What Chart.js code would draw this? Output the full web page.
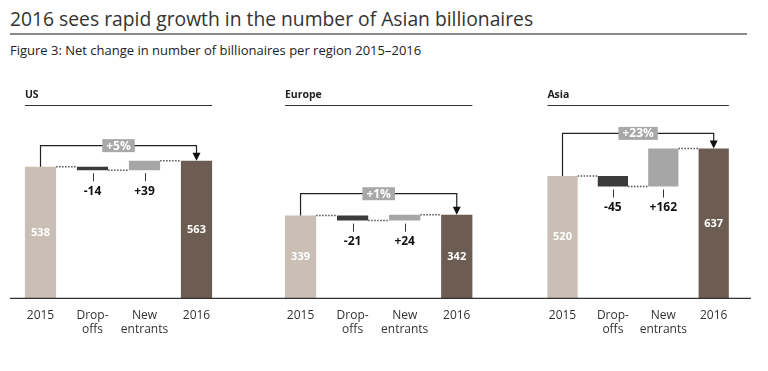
<!DOCTYPE html>
<html>
<head>
<meta charset="utf-8">
<script src="https://cdn.jsdelivr.net/npm/chart.js@4/dist/chart.umd.min.js"></script>
<style>
  body { margin: 0; background: #fff; width: 768px; height: 371px; position: relative; overflow: hidden; font-family: "Open Sans", sans-serif; }
  #title { position: absolute; left: 10px; top: 5px; font-size: 19.3px; color: #333; white-space: nowrap; }
  #rule { position: absolute; left: 10px; top: 33px; width: 737px; height: 2px; background: #8a8a8a; }
  #subtitle { position: absolute; left: 10px; top: 41px; font-size: 13px; color: #222; white-space: nowrap; }
  canvas { position: absolute; top: 80px; }
</style>
</head>
<body>
<div id="title">2016 sees rapid growth in the number of Asian billionaires</div>
<div id="rule"></div>
<div id="subtitle">Figure 3: Net change in number of billionaires per region 2015–2016</div>
<canvas id="us" width="260" height="270" style="left:0px"></canvas>
<canvas id="europe" width="260" height="270" style="left:260px"></canvas>
<canvas id="asia" width="248" height="270" style="left:520px"></canvas>
<script>
// Daten
const categories = ['2015', ['Drop-', 'offs'], ['New', 'entrants'], '2016'];
const regions = ['US', 'Europe', 'Asia'];
const start2015 = [538, 339, 520];
const dropOffs = [-14, -21, -45];
const newEntrants = [39, 24, 162];
const end2016 = [563, 342, 637];
const growthLabels = ['+5%', '+1%', '+23%'];
const yMax = [770, 770, 800];

const barColors = ['#c9bfb5', '#3b3b3b', '#a6a6a6', '#6c5c51'];

// layout per panel (canvas-local pixels)
const panels = [
  { id: 'us', pad: { left: 14.5, right: 37.5 }, base: [10, 260], gap: 15 },
  { id: 'europe', pad: { left: 14.5, right: 37.2 }, base: [0, 260], gap: 21 },
  { id: 'asia', pad: { left: 17.3, right: 29.1 }, base: [0, 231], gap: 15 }
];

const FONT = '"Open Sans", sans-serif';

const waterfallDeco = {
  id: 'waterfallDeco',
  afterDatasetsDraw(chart, args, opts) {
    const ctx = chart.ctx;
    const bars = chart.getDatasetMeta(0).data;
    const area = chart.chartArea;
    const box = bars.map(b => ({
      x: b.x, w: b.width,
      left: b.x - b.width / 2, right: b.x + b.width / 2,
      top: Math.min(b.y, b.base), bottom: Math.max(b.y, b.base)
    }));
    ctx.save();

    // header
    ctx.fillStyle = '#222';
    ctx.font = 'bold 10.5px ' + FONT;
    ctx.textAlign = 'left';
    ctx.textBaseline = 'middle';
    ctx.fillText(opts.region, box[0].left, 15);
    ctx.strokeStyle = '#333';
    ctx.lineWidth = 1;
    ctx.beginPath();
    ctx.moveTo(box[0].left, 25.5);
    ctx.lineTo(box[3].right, 25.5);
    ctx.stroke();

    // baseline
    ctx.strokeStyle = '#333';
    ctx.lineWidth = 1.3;
    ctx.beginPath();
    ctx.moveTo(opts.base[0], area.bottom);
    ctx.lineTo(opts.base[1], area.bottom);
    ctx.stroke();

    // dotted connectors
    ctx.strokeStyle = '#555';
    ctx.lineWidth = 1.5;
    ctx.setLineDash([1.5, 1.5]);
    const links = [[0, box[0].top, 1], [1, box[1].bottom, 2], [2, box[2].top, 3]];
    links.forEach(([i, y, j]) => {
      ctx.beginPath();
      ctx.moveTo(box[i].right, y);
      ctx.lineTo(box[j].left, y);
      ctx.stroke();
    });
    ctx.setLineDash([]);

    // totals inside bars
    ctx.fillStyle = '#fff';
    ctx.font = 'bold 11px ' + FONT;
    ctx.textAlign = 'center';
    [0, 3].forEach(i => {
      ctx.fillText(String(opts.values[i]), box[i].x, (box[i].top + box[i].bottom) / 2);
    });

    // delta ticks + labels
    [1, 2].forEach(i => {
      const v = opts.values[i];
      ctx.strokeStyle = '#333';
      ctx.lineWidth = 1;
      ctx.beginPath();
      ctx.moveTo(Math.round(box[i].x) + 0.5, box[i].bottom + 3);
      ctx.lineTo(Math.round(box[i].x) + 0.5, box[i].bottom + 11);
      ctx.stroke();
      ctx.fillStyle = '#111';
      ctx.font = 'bold 12px ' + FONT;
      ctx.fillText((v > 0 ? '+' : '') + v, box[i].x, box[i].bottom + 21);
    });

    // growth bracket
    const lineY = Math.min(...box.map(b => b.top)) - opts.gap;
    const x0 = box[0].x, x1 = box[3].x;
    ctx.strokeStyle = '#222';
    ctx.lineWidth = 1.2;
    ctx.beginPath();
    ctx.moveTo(x0, box[0].top);
    ctx.lineTo(x0, lineY);
    ctx.lineTo(x1, lineY);
    ctx.lineTo(x1, box[3].top - 6);
    ctx.stroke();
    ctx.fillStyle = '#111';
    ctx.beginPath();
    ctx.moveTo(x1 - 4, box[3].top - 8);
    ctx.lineTo(x1 + 4, box[3].top - 8);
    ctx.lineTo(x1, box[3].top);
    ctx.closePath();
    ctx.fill();

    ctx.font = 'bold 12px ' + FONT;
    const tw = ctx.measureText(opts.growth).width;
    const cx = (x0 + x1) / 2;
    ctx.fillStyle = '#a8a8a8';
    ctx.fillRect(cx - tw / 2 - 4, lineY - 6.5, tw + 8, 13);
    ctx.fillStyle = '#fff';
    ctx.fillText(opts.growth, cx, lineY + 0.5);

    ctx.restore();
  }
};

panels.forEach((p, k) => {
  const s = start2015[k], d = dropOffs[k], n = newEntrants[k], e = end2016[k];
  new Chart(document.getElementById(p.id), {
    type: 'bar',
    data: {
      labels: categories,
      datasets: [{
        data: [[0, s], [s + d, s], [s + d, s + d + n], [0, e]],
        backgroundColor: barColors,
        barPercentage: 0.6,
        categoryPercentage: 1.0
      }]
    },
    options: {
      responsive: false,
      animation: false,
      layout: { padding: { left: p.pad.left, right: p.pad.right, top: 30, bottom: 2.8 } },
      plugins: {
        legend: { display: false },
        tooltip: { enabled: false },
        waterfallDeco: { region: regions[k], values: [s, d, n, e], growth: growthLabels[k], base: p.base, gap: p.gap }
      },
      scales: {
        x: {
          grid: { display: false, drawTicks: false },
          border: { display: false },
          ticks: { color: '#333', font: { family: FONT, size: 12 }, padding: 10, maxRotation: 0, autoSkip: false }
        },
        y: { display: false, min: 0, max: yMax[k] }
      }
    },
    plugins: [waterfallDeco]
  });
});
</script>
</body>
</html>
